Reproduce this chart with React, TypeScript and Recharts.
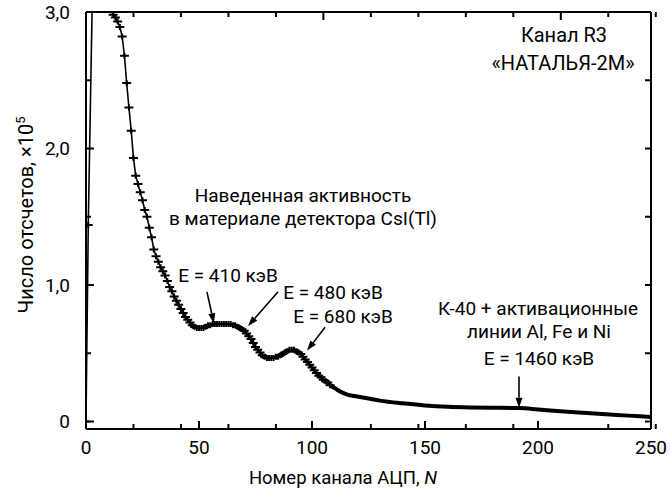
import { LineChart, Line, XAxis, YAxis, ReferenceLine } from 'recharts';

// channel numbers and counts (x10^5)
const earlyChannels = [0, 1, 3, 8, 11];
const earlyCounts = [0, 1.44, 3.3, 3.1, 3.02];

// channels drawn with error marks
const markedChannels = [
  12, 13, 14, 15, 16, 17, 18, 19, 20, 21, 22, 23, 24, 25, 26, 27, 28, 29, 30, 31,
  32, 33, 34, 35, 36, 37, 38, 39, 40, 41, 42, 43, 44, 45, 46, 47, 48, 49, 50, 51,
  52, 53, 54, 55, 56, 57, 58, 59, 60, 61, 62, 63, 64, 65, 66, 67, 68, 69, 70, 71,
  72, 73, 74, 75, 76, 77, 78, 79, 80, 81, 82, 83, 84, 85, 86, 87, 88, 89, 90, 91,
  92, 93, 94, 95, 96, 97, 98, 99, 100, 101, 102, 103, 104, 105, 106, 107, 108,
];
const markedCounts = [
  2.98, 2.96, 2.93, 2.89, 2.82, 2.68, 2.48, 2.3, 2.13, 1.93, 1.8, 1.74, 1.68, 1.62, 1.55, 1.5, 1.42, 1.35, 1.26, 1.21,
  1.17, 1.13, 1.1, 1.07, 1.03, 0.985, 0.955, 0.915, 0.885, 0.855, 0.825, 0.795, 0.765, 0.745, 0.725, 0.705, 0.695, 0.685, 0.685, 0.685,
  0.685, 0.695, 0.705, 0.705, 0.715, 0.715, 0.715, 0.715, 0.715, 0.715, 0.715, 0.715, 0.715, 0.705, 0.705, 0.695, 0.685, 0.675, 0.665, 0.645,
  0.625, 0.605, 0.575, 0.545, 0.525, 0.505, 0.485, 0.475, 0.465, 0.465, 0.465, 0.465, 0.475, 0.475, 0.485, 0.495, 0.505, 0.515, 0.525, 0.525,
  0.525, 0.515, 0.505, 0.495, 0.475, 0.455, 0.435, 0.415, 0.395, 0.375, 0.355, 0.335, 0.325, 0.305, 0.295, 0.285, 0.265,
];

// smooth tail of the spectrum
const tailChannels = [108, 110, 113, 116, 120, 125, 130, 140, 150, 160, 170, 180, 192, 200, 213, 225, 240, 250];
const tailCounts = [0.265, 0.245, 0.215, 0.195, 0.183, 0.168, 0.153, 0.133, 0.118, 0.108, 0.103, 0.101, 0.098, 0.088, 0.071, 0.058, 0.043, 0.033];

const xMajor = [0, 50, 100, 150, 200, 250];
const xMinor = [10, 20, 30, 40, 60, 70, 80, 90, 110, 120, 130, 140, 160, 170, 180, 190, 210, 220, 230, 240];
const yMajor = [0, 1, 2, 3];
const yMinor = [0.5, 1.5, 2.5];
const yRight = [0, 0.5, 1, 1.5, 2, 2.5, 3];

// arrows: [from channel, from count, to channel, to count]
const arrows = [
  [53.5, 0.95, 56.6, 0.72],
  [85, 0.95, 71.7, 0.7],
  [105.8, 0.69, 97.8, 0.52],
  [191.6, 0.33, 191.6, 0.1],
];

const data = [
  ...earlyChannels.map((n, i) => ({ n, main: earlyCounts[i], mark: n <= 1 })),
  ...markedChannels.map((n, i) => ({ n, main: markedCounts[i], mark: true })),
  ...tailChannels.map((n, i) => ({ n, tail: tailCounts[i] })),
];

const font = 'Roboto, sans-serif';
const xDomain = [0, 250];
const yDomain = [-0.055, 3];

const fmtY = (v: number) => (v === 0 ? '0' : v.toFixed(1).replace('.', ','));
const noLabel = () => '';
const tickStroke = { stroke: '#000', strokeWidth: 2 };
const frame = { stroke: '#000', strokeWidth: 2 };

const renderMark = (props: any) => {
  const { cx, cy, payload, index } = props;
  if (!payload?.mark || cx == null || cy == null) return <g key={index} />;
  return (
    <path
      key={index}
      d={`M${cx - 4.5},${cy}h9M${cx},${cy - 3}v6`}
      stroke="#000"
      strokeWidth={2}
      fill="none"
    />
  );
};

const arrowShape = (props: any) => {
  const { x1, y1, x2, y2 } = props;
  const a = Math.atan2(y2 - y1, x2 - x1);
  const len = 10;
  const w = 3.5;
  const bx = x2 - len * Math.cos(a);
  const by = y2 - len * Math.sin(a);
  const px = -Math.sin(a) * w;
  const py = Math.cos(a) * w;
  return (
    <g>
      <line x1={x1} y1={y1} x2={bx} y2={by} stroke="#000" strokeWidth={1.6} />
      <path d={`M${x2},${y2}L${bx + px},${by + py}L${bx - px},${by - py}Z`} fill="#000" />
    </g>
  );
};

const txt = { fontFamily: font, fontSize: 19, fill: '#000', textAnchor: 'middle' as const };

export default function App() {
  return (
    <div style={{ position: 'absolute', left: 0, top: 0, background: '#fff' }}>
      <LineChart width={670} height={491} data={data} margin={{ top: 12, right: 19, left: 0, bottom: 0 }}>
        {/* bottom axis: labels, inward major ticks */}
        <XAxis
          xAxisId="x"
          type="number"
          dataKey="n"
          domain={xDomain}
          ticks={xMajor}
          interval={0}
          allowDataOverflow
          tickLine={tickStroke}
          tickSize={-8}
          tickMargin={20}
          height={62}
          axisLine={frame}
          tick={{ fill: '#000', fontSize: 19, fontFamily: font }}
        />
        <XAxis xAxisId="xMin" type="number" domain={xDomain} ticks={xMinor} interval={0} allowDataOverflow mirror height={0.01} tickFormatter={noLabel} tickSize={5} tickLine={tickStroke} axisLine={false} />
        <XAxis xAxisId="xTop" orientation="top" type="number" domain={xDomain} ticks={xMajor} interval={0} allowDataOverflow mirror height={0.01} tickFormatter={noLabel} tickSize={8} tickLine={tickStroke} axisLine={frame} />
        <XAxis xAxisId="xTopMin" orientation="top" type="number" domain={xDomain} ticks={xMinor} interval={0} allowDataOverflow mirror height={0.01} tickFormatter={noLabel} tickSize={5} tickLine={tickStroke} axisLine={false} />

        {/* left axis: labels, inward major ticks */}
        <YAxis
          yAxisId="y"
          type="number"
          domain={yDomain}
          ticks={yMajor}
          interval={0}
          allowDataOverflow
          width={86}
          tickLine={tickStroke}
          tickSize={-8}
          tickMargin={24}
          tickFormatter={fmtY}
          axisLine={frame}
          tick={{ fill: '#000', fontSize: 19, fontFamily: font }}
        />
        <YAxis yAxisId="yMin" type="number" domain={yDomain} ticks={yMinor} interval={0} allowDataOverflow mirror width={0.01} tickFormatter={noLabel} tickSize={5} tickLine={tickStroke} axisLine={false} />
        <YAxis yAxisId="yR" orientation="right" type="number" domain={yDomain} ticks={yRight} interval={0} allowDataOverflow mirror width={0.01} tickFormatter={noLabel} tickSize={6} tickLine={tickStroke} axisLine={frame} />

        <Line
          xAxisId="x"
          yAxisId="y"
          type="linear"
          dataKey="main"
          stroke="#000"
          strokeWidth={1.6}
          dot={renderMark}
          activeDot={false}
          connectNulls={false}
          isAnimationActive={false}
        />
        <Line
          xAxisId="x"
          yAxisId="y"
          type="monotone"
          dataKey="tail"
          stroke="#000"
          strokeWidth={4}
          dot={false}
          activeDot={false}
          connectNulls={false}
          isAnimationActive={false}
        />

        {arrows.map((a, i) => (
          <ReferenceLine
            key={i}
            xAxisId="x"
            yAxisId="y"
            segment={[{ x: a[0], y: a[1] }, { x: a[2], y: a[3] }]}
            shape={arrowShape}
            ifOverflow="visible"
          />
        ))}

        <text {...txt} fontSize={20} x={564} y={42}>
          Канал R3
          <tspan x={563} dy={28}>«НАТАЛЬЯ-2М»</tspan>
        </text>
        <text {...txt} x={303} y={202}>
          Наведенная активность
          <tspan x={303} dy={23}>в материале детектора CsI(Tl)</tspan>
        </text>
        <text {...txt} x={228} y={282}>E = 410 кэВ</text>
        <text {...txt} x={333} y={299}>E = 480 кэВ</text>
        <text {...txt} x={343} y={323}>E = 680 кэВ</text>
        <text {...txt} x={538} y={315}>
          К-40 + активационные
          <tspan x={539} dy={23}>линии Al, Fe и Ni</tspan>
        </text>
        <text {...txt} x={539} y={365}>E = 1460 кэВ</text>

        <text {...txt} fontSize={18.5} x={343} y={484}>
          Номер канала АЦП, <tspan fontStyle="italic">N</tspan>
        </text>
        <text {...txt} fontSize={20} transform="translate(33,215) rotate(-90)">
          Число отсчетов, ×10<tspan fontSize={13} dy={-8}>5</tspan>
        </text>
      </LineChart>
    </div>
  );
}
